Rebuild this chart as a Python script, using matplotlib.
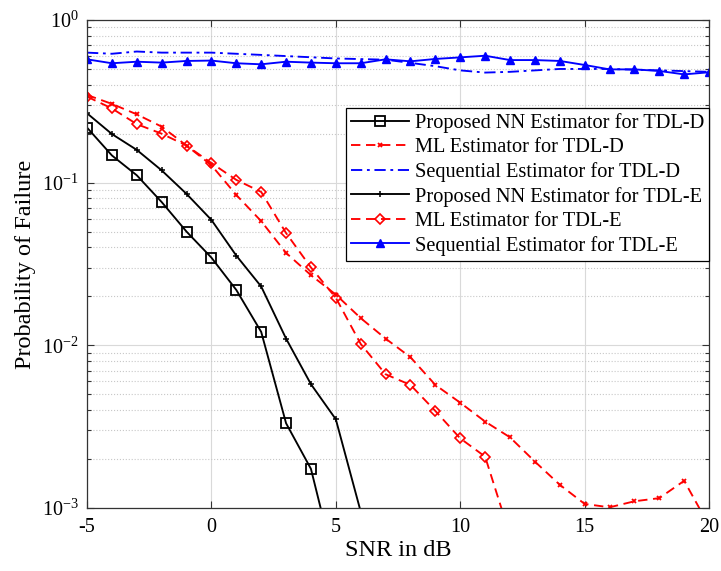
import matplotlib
matplotlib.use("Agg")
import matplotlib.pyplot as plt
import numpy as np
from matplotlib.ticker import LogLocator, LogFormatterMathtext, NullFormatter, MultipleLocator

plt.rcParams['font.family'] = ['Liberation Serif', 'DejaVu Serif']
plt.rcParams['mathtext.fontset'] = 'custom'
plt.rcParams['mathtext.rm'] = 'Liberation Serif'
plt.rcParams['mathtext.it'] = 'Liberation Serif:italic'
plt.rcParams['axes.unicode_minus'] = False

snr_nn_d = [-5, -4, -3, -2, -1, 0, 1, 2, 3, 4, 5]
nn_d = [0.218, 0.147, 0.111, 0.076, 0.050, 0.0346, 0.0219, 0.0121, 0.00332, 0.00174, 0.00042]

snr_nn_e = [-5, -4, -3, -2, -1, 0, 1, 2, 3, 4, 5, 6, 7]
nn_e = [0.267, 0.199, 0.159, 0.119, 0.0853, 0.059, 0.0356, 0.023, 0.011, 0.00577, 0.00351, 0.00095, 0.0003]

snr_ml_d = list(range(-5, 21))
ml_d = [0.346, 0.305, 0.263, 0.221, 0.169, 0.128, 0.084, 0.058, 0.037, 0.027, 0.0205,
        0.0147, 0.011, 0.00845, 0.00571, 0.00444, 0.0034, 0.00272, 0.00193, 0.00139,
        0.00106, 0.00101, 0.0011, 0.00115, 0.00147, 0.00078]

snr_ml_e = list(range(-5, 13))
ml_e = [0.338, 0.286, 0.229, 0.200, 0.169, 0.132, 0.104, 0.0877, 0.049, 0.0301, 0.0196,
        0.0102, 0.00664, 0.00571, 0.00395, 0.00268, 0.00207, 0.00068]

snr_seq = list(range(-5, 21))
seq_d = [0.63, 0.62, 0.64, 0.63, 0.63, 0.63, 0.62, 0.61, 0.60, 0.59, 0.58, 0.575, 0.57,
         0.545, 0.52, 0.49, 0.475, 0.48, 0.49, 0.50, 0.50, 0.50, 0.495, 0.49, 0.485, 0.48]
seq_e = [0.573, 0.542, 0.554, 0.547, 0.56, 0.563, 0.542, 0.534, 0.554, 0.547, 0.542, 0.542,
         0.573, 0.557, 0.576, 0.589, 0.603, 0.567, 0.567, 0.56, 0.529, 0.497, 0.497, 0.486,
         0.463, 0.477]

labels = ["Proposed NN Estimator for TDL-D", "ML Estimator for TDL-D",
          "Sequential Estimator for TDL-D", "Proposed NN Estimator for TDL-E",
          "ML Estimator for TDL-E", "Sequential Estimator for TDL-E"]

fig = plt.figure(figsize=(7.21, 5.71), dpi=100)
ax = fig.add_axes([0.1207, 0.1103, 0.8627, 0.8547])

red = '#ff0000'
blue = '#0000ff'
lw = 1.35
ax.semilogy(snr_nn_d, nn_d, '-', color='black', lw=lw, marker='s', ms=6.5,
            mfc='none', mew=1.3, label=labels[0])
ax.semilogy(snr_ml_d, ml_d, '--', color=red, lw=lw, marker='x', ms=3.5,
            mew=1.3, dashes=(5, 3), label=labels[1])
ax.semilogy(snr_seq, seq_d, color=blue, lw=lw, dashes=(6, 2.5, 1.5, 2.5), label=labels[2])
ax.semilogy(snr_nn_e, nn_e, '-', color='black', lw=lw, marker='+', ms=4.5,
            mew=1.1, label=labels[3])
ax.semilogy(snr_ml_e, ml_e, '--', color=red, lw=lw, marker='D', ms=4.8,
            mfc='none', mew=1.2, dashes=(5, 3), label=labels[4])
ax.semilogy(snr_seq, seq_e, '-', color=blue, lw=lw, marker='^', ms=5.5,
            mfc=blue, mec=blue, label=labels[5])

ax.set_xlim(-5, 20)
ax.set_ylim(1e-3, 1)
ax.xaxis.set_major_locator(MultipleLocator(5))
ax.yaxis.set_major_locator(LogLocator(base=10, numticks=10))
ax.yaxis.set_minor_locator(LogLocator(base=10, subs=np.arange(2, 10), numticks=10))
ax.yaxis.set_major_formatter(LogFormatterMathtext())
ax.yaxis.set_minor_formatter(NullFormatter())

ax.grid(True, which='major', color='#d9d9d9', lw=0.8, ls='-')
ax.grid(True, which='minor', axis='y', color='#c8c8c8', lw=0.8, ls=':')
ax.set_axisbelow(True)

ax.tick_params(which='both', direction='in', top=True, right=True, labelsize=14.5,
               width=0.8, color='#333333')
ax.tick_params(which='major', length=5)
ax.tick_params(which='minor', length=3)
ax.tick_params(axis='x', pad=7)
ax.tick_params(axis='y', pad=6)
for s in ax.spines.values():
    s.set_linewidth(0.9)
    s.set_color('#333333')

ax.set_xlabel('SNR in dB', fontsize=17.5, labelpad=2)
ax.set_ylabel('Probability of Failure', fontsize=17.5, labelpad=4)

leg = ax.legend(loc='upper right', bbox_to_anchor=(1.0, 0.82), fontsize=14.7,
                frameon=True, fancybox=False, edgecolor='black', framealpha=1,
                handlelength=2.85, borderpad=0.25, labelspacing=0.24,
                handletextpad=0.25, borderaxespad=0)
leg.get_frame().set_linewidth(0.9)

fig.savefig('out.png', dpi=100)
